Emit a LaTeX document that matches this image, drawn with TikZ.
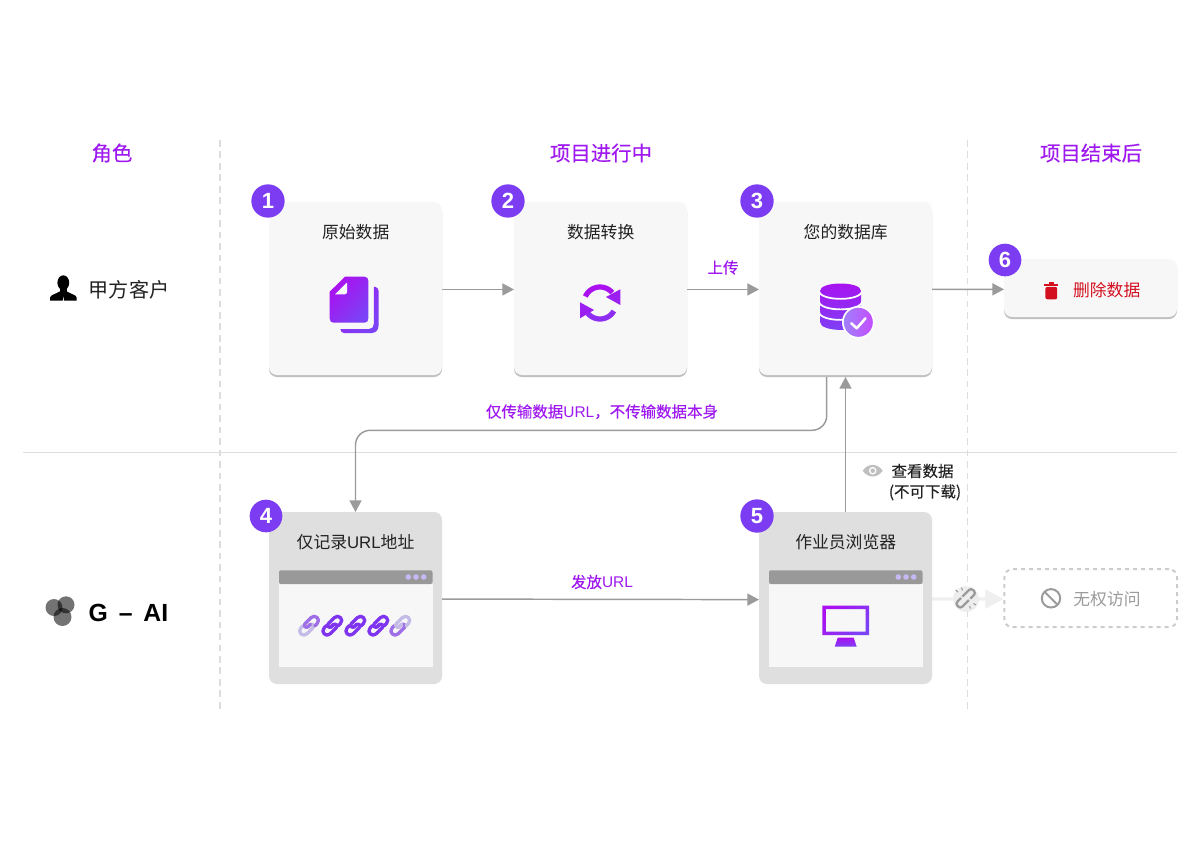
\documentclass[tikz,border=0pt]{standalone}
\usepackage{fontspec}
\setmainfont{Liberation Sans}
\newfontfamily\cn{Noto Sans CJK SC}
\newfontfamily\cnm[FakeBold=0.25]{Noto Sans CJK SC}
\usetikzlibrary{arrows.meta,shadows}
\definecolor{purp}{HTML}{9F18F0}
\definecolor{violet1}{HTML}{7C3DF2}
\definecolor{grad1}{HTML}{AA10F0}
\definecolor{grad2}{HTML}{7C42F5}
\definecolor{cardbg}{HTML}{F7F7F7}
\definecolor{cardgrey}{HTML}{DFDFDF}
\definecolor{shadowgrey}{HTML}{BFBFBF}
\definecolor{linegrey}{HTML}{9B9B9B}
\definecolor{rule}{HTML}{DDDDDD}
\definecolor{ink}{HTML}{222222}
\definecolor{dots}{HTML}{C5B8F5}
\definecolor{barbg}{HTML}{999999}
\definecolor{redd}{HTML}{D3101F}
\definecolor{faint}{HTML}{EFEFEF}
\definecolor{blob}{HTML}{EDEDED}
\definecolor{chkA}{HTML}{A080FA}
\definecolor{chkB}{HTML}{C44DFF}
\definecolor{chA}{HTML}{C4BCE6}
\definecolor{chB}{HTML}{9E6FE6}
\definecolor{chC}{HTML}{7F35F0}
\tikzset{
  txt/.style={inner sep=0pt,outer sep=0pt,text=ink,font=\fontsize{12.6}{14}\selectfont},
  cntxt/.style={txt,font=\fontsize{12.6}{14}\selectfont\cn},
  headtxt/.style={inner sep=0pt,text=purp,font=\fontsize{15.3}{18}\selectfont\cnm},
  lbl/.style={inner sep=0pt,text=purp,font=\fontsize{11.6}{13}\selectfont},
  card/.style={draw=none,fill=cardbg,rounded corners=6pt,minimum width=129.75pt,inner sep=0pt,outer sep=0pt,
     general shadow={fill=shadowgrey,shadow yshift=-1.5pt}},
  greycard/.style={draw=none,fill=cardgrey,rounded corners=6pt,minimum width=129.75pt,minimum height=129pt,inner sep=0pt,outer sep=0pt},
  badge/.style={circle,fill=violet1,text=white,inner sep=0pt,minimum size=25pt,font=\fontsize{16.5}{18}\selectfont\bfseries},
  arr/.style={draw=linegrey,line width=1.1pt,-{Triangle[length=8.7pt,width=9pt]}},
  divider/.style={draw=rule,line width=.9pt,dash pattern=on 5pt off 3.6pt},
  chain/.style={line width=2.5pt,line join=round,line cap=round},
}
\begin{document}
\begin{tikzpicture}[x=.75pt,y=-.75pt]
\useasboundingbox (0,0) rectangle (1201,850);
\fill[white] (0,0) rectangle (1201,850);
% dividers
\coordinate (v1a) at (220,140); \coordinate (v1b) at (220,712);
\coordinate (v2a) at (967.3,140); \coordinate (v2b) at (967.3,712);
\coordinate (h1) at (23,452.5); \coordinate (h2) at (1177,452.5);
\draw[divider] (v1a) -- (v1b);
\draw[divider] (v2a) -- (v2b);
\draw[draw=rule,line width=.9pt] (h1) -- (h2);
% headers
\node[headtxt] (hrole) at (112,153) {角色};
\node[headtxt] (hmid) at (601,153) {项目进行中};
\node[headtxt] (hend) at (1091,153) {项目结束后};
% row labels
\node[txt,font=\fontsize{15.1}{16}\selectfont\cn] (rowa) at (129,290) {甲方客户};
\node[txt,text=black,font=\fontsize{18.6}{20}\selectfont\bfseries] (rowb) at (128.5,612.7) {G\hspace{.16em} – \hspace{.16em}AI};
% person icon
\fill[black] (63.3,282.7) ellipse[x radius=5.9,y radius=7.4];
\fill[black] (60,286) rectangle (66.6,293);
\fill[black] (50,300.7) -- (50,297.5) .. controls (51,294.5) and (56,294) .. (59.5,291.5) -- (67,291.5) .. controls (70.5,294) and (76,294.5) .. (76.7,297.5) -- (76.7,300.7) -- (64,300.7) -- (63.3,295) -- (62.7,300.7) -- cycle;
% G-AI icon
\fill[black,opacity=.55] (54,607.5) circle[radius=8.5];
\fill[black,opacity=.55] (66,604.8) circle[radius=8.5];
\fill[black,opacity=.55] (62.5,617) circle[radius=9];
% cards
\node[card,minimum height=129.75pt] (b1) at (355.5,288.5) {};
\node[card,minimum height=129.75pt] (b2) at (600.5,288.5) {};
\node[card,minimum height=129.75pt] (b3) at (845.5,288.5) {};
\node[card,minimum height=43.5pt] (b6) at (1090.5,288) {};
\node[greycard] (b4) at (355.5,598) {};
\node[greycard] (b5) at (845.5,598) {};
\node[draw=shadowgrey!80,line width=1.5pt,dash pattern=on 3pt off 3pt,rounded corners=6pt,minimum width=129.5pt,minimum height=43.5pt,inner sep=0pt] (b7) at (1090.7,598.2) {};
% titles
\node[cntxt] (t1) at (355.7,232.2) {原始数据};
\node[cntxt] (t2) at (600.7,232.2) {数据转换};
\node[cntxt] (t3) at (845.7,232.2) {您的数据库};
\node[txt] (t4) at (355.5,541.8) {{\cn 仅记录}URL{\cn 地址}};
\node[cntxt] (t5) at (845.7,541.8) {作业员浏览器};
\node[cntxt,text=redd] (t6) at (1106.7,289.8) {删除数据};
\node[cntxt,text=linegrey] (t7) at (1107,599.5) {无权访问};
% windows
\foreach \wx in {279,769}{
  \fill[cardbg] (\wx,584) rectangle (\wx+153.5,667);
  \fill[barbg,rounded corners=1.5pt] (\wx,570.3) -- (\wx+153.5,570.3) -- (\wx+153.5,584) -- (\wx,584) -- cycle;
  \fill[dots] (\wx+129.3,577) circle[radius=2.8] (\wx+137,577) circle[radius=2.8] (\wx+144.7,577) circle[radius=2.8];
}
% connectors
\draw[arr] ([yshift=-.7pt]b1.east) -- ([yshift=-.7pt]b2.west);
\draw[arr] ([yshift=-.7pt]b2.east) -- ([yshift=-.7pt]b3.west);
\draw[arr] ([yshift=-.7pt]b3.east) -- ([yshift=-1pt]b6.west);
\draw[arr] ([yshift=-.8pt]b4.east) -- ([yshift=-1.2pt]b5.west);
\draw[arr,rounded corners=11pt] ([xshift=-14.1pt,yshift=-1.5pt]b3.south) -- ++(0,53.3) -| (b4.north);
\draw[arr] (b5.north) -- ([yshift=-1.5pt]b3.south);
\draw[draw=faint,line width=2.4pt,-{Triangle[length=13.5pt,width=14pt]}] ([yshift=-.8pt]b5.east) -- ([yshift=-.6pt]b7.west);
% edge labels
\node[lbl,font=\fontsize{11.6}{13}\selectfont\cnm] (l1) at (723,267.5) {上传};
\node[lbl] (l2) at (602,411.7) {{\cnm 仅传输数据}URL{\cnm ，不传输数据本身}};
\node[lbl] (l3) at (602,582) {{\cnm 发放}URL};
\node[txt,font=\fontsize{11.6}{13}\selectfont\cnm] (l4) at (922.5,471) {查看数据};
\node[txt,font=\fontsize{11.6}{13}\selectfont\cnm] (l5) at (925,492.3) {(不可下载)};
% eye icon
\fill[shadowgrey] (862.7,470.7) .. controls (868,463) and (877.5,463) .. (882.7,470.7) .. controls (877.5,478.4) and (868,478.4) .. (862.7,470.7) -- cycle;
\fill[white] (872.7,470.7) circle[radius=3.8];
\fill[shadowgrey] (872.7,470.7) circle[radius=2.3];
% badges
\node[badge] (n1) at (268,201) {1};
\node[badge] (n2) at (508,201) {2};
\node[badge] (n3) at (757,201) {3};
\node[badge,minimum size=24.5pt] (n4) at (266,516) {4};
\node[badge] (n5) at (757,516) {5};
\node[badge,minimum size=24.5pt] (n6) at (1005,260) {6};
% document icon
\path[top color=grad1!60!grad2,bottom color=grad2,shading angle=45]
   (373.8,286.9) -- (375.5,286.9) .. controls (377.3,287.5) and (378.5,289) .. (378.5,291) -- (378.5,326) .. controls (378.5,330) and (375.5,333) .. (371.5,333) -- (344,333) .. controls (342,333) and (340.5,331.3) .. (340.3,329) -- (369,329) .. controls (372,329) and (373.8,327) .. (373.8,324) -- cycle;
\path[top color=grad1,bottom color=grad2,shading angle=45]
   (345,276.7) -- (364.5,276.7) .. controls (367,276.7) and (368.3,278.5) .. (368.3,280.5) -- (368.3,318.5) .. controls (368.3,321) and (367,322.7) .. (364.5,322.7) -- (333.5,322.7) .. controls (331,322.7) and (329.7,321) .. (329.7,318.5) -- (329.7,291.7) -- cycle;
\fill[cardbg] (335,294.3) -- (347,282.5) -- (347,292) .. controls (347,293.4) and (346,294.3) .. (344.8,294.3) -- cycle;
% sync icon
\draw[grad1,line width=3.9pt] plot[domain=156:40,samples=24] ({600+16*cos(\x)},{303-16*sin(\x)});
\draw[grad2!60!grad1,line width=3.9pt] plot[domain=-30:-140,samples=24] ({600+16*cos(\x)},{303-16*sin(\x)});
\fill[grad1!70!grad2] (620.3,289.3) -- (620.3,305) -- (606,297) -- cycle;
\fill[grad1!70!grad2] (580,302.3) -- (580,318.3) -- (594,310) -- cycle;
% database icon
\path[top color=grad1,bottom color=grad2]
   (820,291) .. controls (820,281) and (861,281) .. (861,291) -- (861,322) .. controls (861,332.5) and (820,332.5) .. (820,322) -- cycle;
\foreach \dy in {0,10.5,21}{
  \draw[white,line width=1.3pt] (819,291+\dy) .. controls (820,301.5+\dy) and (861,301.5+\dy) .. (862,291+\dy);
}
\fill[white] (858.3,322.3) circle[radius=16.3];
\path[left color=chkA,right color=chkB] (858.3,322.3) circle[radius=14.5];
\draw[white,line width=1.9pt,line cap=round,line join=round] (851.3,323.3) -- (856.7,328.3) -- (865.5,318.3);
% trash icon
\fill[redd] (1044.3,284) rectangle (1058.3,285.8);
\fill[redd] (1048.7,281.7) rectangle (1053.9,284);
\fill[redd,rounded corners=1.5pt] (1045.4,286.8) -- (1057.2,286.8) -- (1057.2,299.3) -- (1045.4,299.3) -- cycle;
% ban icon
\draw[linegrey,line width=1.5pt] (1051,598.3) circle[radius=9.2];
\draw[linegrey,line width=1.5pt] (1044.5,591.8) -- (1057.5,604.8);
% chain icons
\foreach \cx/\ca/\cb in {309/chA/chB,332.3/chC/chC,355.3/chC/chC,378.3/chC/chC,400.3/chB/chA}{
  \begin{scope}[shift={(\cx,625.7)},rotate=45]
    \draw[chain,\ca] (-2,0) -- (1.4,0) .. controls (4.2,0) and (4.2,4.2) .. (1.4,4.2) -- (-7.3,4.2) .. controls (-12.9,4.2) and (-12.9,-4.2) .. (-7.3,-4.2) -- (-4,-4.2);
    \draw[chain,\cb] (2,0) -- (-1.4,0) .. controls (-4.2,0) and (-4.2,-4.2) .. (-1.4,-4.2) -- (7.3,-4.2) .. controls (12.9,-4.2) and (12.9,4.2) .. (7.3,4.2) -- (4,4.2);
  \end{scope}
}
% monitor icon
\path[even odd rule,top color=grad1,bottom color=grad2,shading angle=45]
   (822.3,605.7) rectangle (869,635) (825.8,609.2) rectangle (865.5,631.5);
\path[top color=grad1,bottom color=grad2] (837.7,637.7) -- (853.7,637.7) -- (856.7,646.7) -- (834.7,646.7) -- cycle;
% broken link badge
\fill[blob] (966,599) circle[radius=13];
\begin{scope}[shift={(965.7,598.3)},rotate=45]
  \draw[linegrey,line width=1.7pt,rounded corners=2pt] (1,3.5) -- (-11,3.5) -- (-11,-3.5) -- (-3,-3.5);
  \draw[linegrey,line width=1.7pt,rounded corners=2pt] (-1,-3.5) -- (11,-3.5) -- (11,3.5) -- (3,3.5);
\end{scope}
\draw[linegrey,line width=.8pt] (958,592) -- (955.5,590) (962.5,590.5) -- (961.5,587.5) (973.5,603.5) -- (976,605) (969.5,606) -- (970.5,608.5);
\end{tikzpicture}
\end{document}
